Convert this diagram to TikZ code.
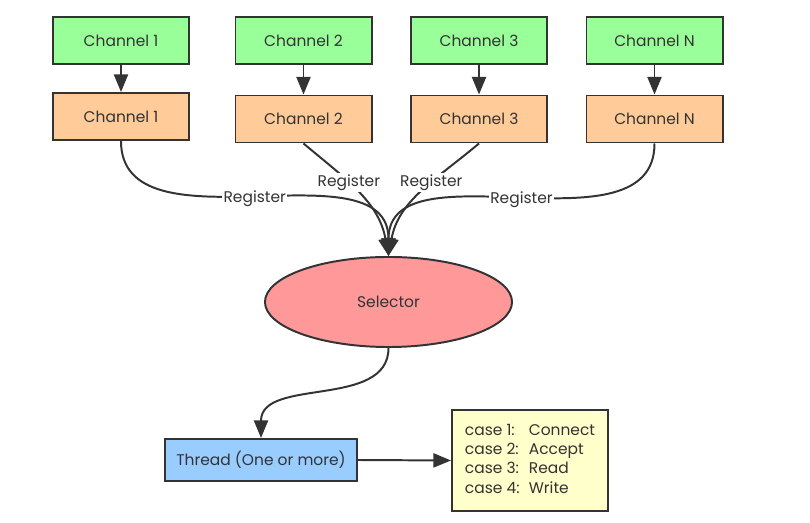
\documentclass[tikz,border=0pt]{standalone}
\usepackage{fontspec}
\setmainfont{Poppins}
\usepackage{tikz}
\usetikzlibrary{shapes,positioning,calc}
\usetikzlibrary{shapes.geometric}
\usetikzlibrary{arrows.meta}
\definecolor{inkgray}{HTML}{333333}
\definecolor{chgreen}{HTML}{99FF99}
\definecolor{chorange}{HTML}{FFCC99}
\definecolor{selred}{HTML}{FF9999}
\definecolor{thblue}{HTML}{99CCFF}
\definecolor{csyellow}{HTML}{FFFFCC}
\tikzstyle{box} = [rectangle, minimum width=3.4cm, minimum height=1.175cm,
text centered, draw=inkgray, line width=1.4pt, text=inkgray, font=\fontsize{11}{13.7}\selectfont]
\tikzstyle{channel} = [box, fill=chgreen]
\tikzstyle{chanreg} = [box, fill=chorange]
\tikzstyle{selettore} = [ellipse, minimum width=6.175cm, minimum height=2.25cm,
draw=inkgray, line width=1.4pt, fill=selred, text=inkgray, font=\fontsize{11}{13.7}\selectfont]
\tikzstyle{reglabel} = [fill=white, inner sep=1pt, text=inkgray, font=\fontsize{11}{13.7}\selectfont]
\tikzstyle{arrow} = [line width=1.4pt, draw=inkgray, -{Triangle[length=12.5pt,width=10pt]}]

\begin{document}
\begin{tikzpicture}[x=0.025cm, y=-0.025cm]
	\useasboundingbox (0,0) rectangle (810,523);
	\node (g1) at (121,40.5) [channel] {Channel 1};
	\node (g2) at (303.5,40.5) [channel] {Channel 2};
	\node (g3) at (479,40.5) [channel] {Channel 3};
	\node (gN) at (654.5,40.5) [channel] {Channel N};
	\node (o1) at (121,116.5) [chanreg] {Channel 1};
	\node (o2) at (303.5,119) [chanreg] {Channel 2};
	\node (o3) at (479,119) [chanreg] {Channel 3};
	\node (oN) at (654.5,119) [chanreg] {Channel N};
	\node (sel) at (388.5,302) [selettore] {Selector};
	\node (thr) at (261,460) [box, fill=thblue, minimum width=4.8cm, minimum height=1.05cm] {Thread (One or more)};
	\node (cs) at (530,460.5) [box, fill=csyellow, minimum width=3.9cm, minimum height=2.525cm]
		{\begin{tabular}{@{}l@{\hspace{0.6em}}l@{}}
			case 1: & Connect\\
			case 2: & Accept\\
			case 3: & Read\\
			case 4: & Write
		\end{tabular}};
	\draw[arrow] (g1) -- (o1);
	\draw[arrow] (g2) -- (o2);
	\draw[arrow] (g3) -- (o3);
	\draw[arrow] (gN) -- (oN);
	\draw[arrow] (o1.south) to[out=-90,in=90] node[reglabel,pos=0.5] {Register} (sel.north);
	\draw[arrow] (o2.south) to[out=-40,in=100] node[reglabel,pos=0.4] {Register} (sel.north);
	\draw[arrow] (o3.south) to[out=-140,in=80] node[reglabel,pos=0.4] {Register} (sel.north);
	\draw[arrow] (oN.south) to[out=-90,in=90] node[reglabel,pos=0.5] {Register} (sel.north);
	\draw[arrow] (sel.south) to[out=-90,in=90] (thr.north);
	\draw[arrow] (thr.east) -- (cs.west);
\end{tikzpicture}
\end{document}
